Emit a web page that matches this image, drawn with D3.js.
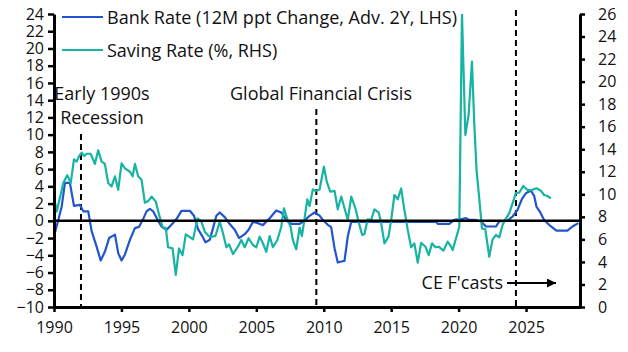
<!DOCTYPE html>
<html>
<head>
<meta charset="utf-8">
<script src="https://cdn.jsdelivr.net/npm/d3@7"></script>
<style>
  body { margin: 0; background: #fff; }
  svg text { font-family: "Open Sans", "Noto Sans", sans-serif; fill: #111; }
</style>
</head>
<body>
<div id="chart"></div>
<script>
// Bank Rate, 12M ppt change, advanced 2 years (LHS)
let bankYears = [1990.00, 1990.32, 1990.57, 1990.81, 1991.18, 1991.48, 1991.92, 1992.17, 1992.54, 1992.79,
  1993.16, 1993.46, 1993.77, 1994.09, 1994.52, 1994.76, 1995.01, 1995.26, 1995.63, 1996.00,
  1996.31, 1996.61, 1996.86, 1997.11, 1997.35, 1997.65, 1997.97, 1998.34, 1998.71, 1999.08,
  1999.45, 2000.07, 2000.38, 2000.68, 2000.98, 2001.23, 2001.55, 2001.79, 2002.04, 2002.29,
  2002.66, 2003.03, 2003.40, 2003.72, 2004.14, 2004.43, 2004.75, 2005.12, 2005.49, 2005.99,
  2006.48, 2006.85, 2007.22, 2007.59, 2008.21, 2008.58, 2008.95, 2009.32, 2009.69, 2009.93,
  2010.30, 2010.55, 2010.80, 2011.04, 2011.30, 2011.54, 2011.78, 2012.04, 2018.33, 2018.45,
  2019.31, 2019.68, 2020.30, 2020.55, 2020.79, 2021.29, 2021.66, 2022.03, 2022.77, 2023.01,
  2023.63, 2024.00, 2024.37, 2024.69, 2024.99, 2025.36, 2025.60, 2025.77, 2026.02, 2026.34,
  2026.71, 2027.25, 2028.07, 2028.44, 2028.88];
let bankRate = [-1.8, 0.1, 1.66, 4.4, 4.4, 1.74, 1.86, 1.1, 1.1, -1.2,
  -3.0, -4.6, -3.6, -2.0, -1.6, -3.75, -4.6, -3.9, -2.2, -0.85,
  -0.7, 0.2, 1.1, 1.4, 1.1, 0.2, -0.66, -1.05, -0.46, 0.2,
  1.16, 1.16, 0.58, -0.96, -1.74, -2.5, -2.2, -0.85, 0.58, 0.97,
  0.43, -0.38, -1.04, -2.0, -1.55, -1.04, -0.12, -0.27, -0.5, 0.3,
  1.2, 0.97, 0.1, -0.35, -0.35, 0.03, 0.58, 0.97, 0.6, 0.1,
  -0.46, -0.73, -3.17, -4.84, -4.72, -4.64, -1.82, -0.12, -0.12, -0.35,
  -0.35, 0.1, 0.23, 0.31, 0.1, 0.1, -0.08, -0.66, -0.66, -0.08,
  0.03, 0.5, 1.28, 2.52, 3.21, 3.51, 2.9, 1.66, 1.08, 0.1,
  -0.46, -1.13, -1.13, -0.66, -0.27];

// Household saving rate, % (RHS)
let savingYears = [1990.00, 1990.20, 1990.69, 1990.98, 1991.24, 1991.48, 1991.68, 1991.87, 1992.05, 1992.24,
  1992.42, 1992.72, 1993.03, 1993.28, 1993.53, 1993.77, 1994.02, 1994.27, 1994.52, 1994.76,
  1995.01, 1995.26, 1995.63, 1995.83, 1996.00, 1996.24, 1996.49, 1996.74, 1996.98, 1997.23,
  1997.55, 1997.79, 1998.05, 1998.29, 1998.46, 1998.79, 1999.03, 1999.27, 1999.53, 1999.77,
  2000.07, 2000.31, 2000.64, 2000.93, 2001.18, 2001.47, 2001.72, 2001.97, 2002.29, 2002.53,
  2002.78, 2002.98, 2003.27, 2003.64, 2003.89, 2004.14, 2004.43, 2004.75, 2005.00, 2005.25,
  2005.49, 2005.74, 2005.99, 2006.23, 2006.56, 2006.85, 2007.05, 2007.30, 2007.54, 2007.71,
  2007.96, 2008.21, 2008.38, 2008.58, 2008.78, 2008.95, 2009.19, 2009.37, 2009.69, 2010.01,
  2010.23, 2010.48, 2010.80, 2011.04, 2011.30, 2011.54, 2011.78, 2012.04, 2012.35, 2012.60,
  2012.85, 2013.02, 2013.26, 2013.52, 2013.76, 2014.08, 2014.26, 2014.50, 2014.80, 2015.00,
  2015.24, 2015.49, 2015.74, 2015.98, 2016.23, 2016.48, 2016.72, 2016.97, 2017.22, 2017.54,
  2017.78, 2018.03, 2018.28, 2018.52, 2018.87, 2019.19, 2019.44, 2019.56, 2019.81, 2020.05,
  2020.25, 2020.50, 2020.74, 2020.99, 2021.16, 2021.33, 2021.53, 2021.73, 2021.98, 2022.27,
  2022.52, 2022.77, 2023.01, 2023.26, 2023.51, 2023.75, 2024.00, 2024.25, 2024.49, 2024.79,
  2025.11, 2025.43, 2025.77, 2026.10, 2026.34, 2026.59, 2026.84];
let savingRate = [9.8, 8.46, 11.0, 11.7, 11.0, 13.1, 12.9, 13.4, 13.7, 13.4,
  13.6, 13.6, 12.7, 13.9, 12.9, 12.7, 11.0, 10.7, 11.6, 10.4,
  12.75, 12.3, 12.0, 11.6, 12.7, 11.6, 11.3, 9.25, 9.4, 9.8,
  9.35, 8.2, 7.1, 7.0, 5.3, 5.2, 2.85, 5.2, 4.6, 6.45,
  6.2, 6.0, 7.87, 7.57, 6.68, 6.3, 6.24, 6.3, 7.57, 6.54,
  5.3, 5.56, 4.7, 5.35, 5.95, 5.3, 6.1, 5.5, 5.3, 6.24,
  5.65, 4.9, 6.3, 5.3, 5.95, 7.12, 8.76, 7.78, 7.12, 5.95,
  5.12, 7.04, 6.3, 7.87, 9.56, 8.96, 10.44, 10.3, 10.4, 12.45,
  11.1, 10.23, 10.3, 8.67, 9.8, 8.76, 7.72, 9.8, 8.76, 7.48,
  6.39, 6.48, 7.78, 7.72, 8.67, 8.37, 7.43, 5.65, 6.24, 7.72,
  9.94, 9.56, 10.53, 8.6, 6.83, 5.3, 5.65, 3.93, 5.7, 5.35,
  4.6, 5.65, 5.3, 5.35, 5.0, 5.8, 5.35, 5.06, 6.1, 7.12,
  26.0, 15.26, 17.04, 21.77, 16.3, 12.16, 9.64, 6.98, 6.9, 4.46,
  6.0, 6.39, 6.18, 7.28, 7.87, 8.31, 9.2, 10.14, 10.14, 10.74,
  10.38, 10.38, 10.53, 10.32, 9.94, 9.85, 9.64];

let leftTicks = [-10, -8, -6, -4, -2, 0, 2, 4, 6, 8, 10, 12, 14, 16, 18, 20, 22, 24];
let rightTicks = [0, 2, 4, 6, 8, 10, 12, 14, 16, 18, 20, 22, 24, 26];
let yearTicks = [1990, 1995, 2000, 2005, 2010, 2015, 2020, 2025];

let seriesNames = ["Bank Rate (12M ppt Change, Adv. 2Y, LHS)", "Saving Rate (%, RHS)"];
let eventYears = [1992, 2009.45, 2024.25];

let w = 628;
let h = 352;
let blue = "#2255cc";
let teal = "#17b3a3";
let font = "'Open Sans', 'Noto Sans', sans-serif";

let x = d3.scaleLinear().domain([1990, 2029]).range([54, 580]);
let yL = d3.scaleLinear().domain([-10, 24]).range([307, 14]);
let yR = d3.scaleLinear().domain([0, 26]).range([307, 14]);

let viz = d3.select("#chart")
  .append("svg")
  .attr("width", w)
  .attr("height", h);

viz.append("clipPath").attr("id", "plot")
  .append("rect").attr("x", 54).attr("y", 14).attr("width", 526).attr("height", 293);

// dashed event lines
let dashTops = [134, 109, 10];
viz.selectAll(".event")
  .data(eventYears)
  .enter()
  .append("line")
  .attr("class", "event")
  .attr("x1", d => x(d))
  .attr("x2", d => x(d))
  .attr("y1", (d, i) => dashTops[i])
  .attr("y2", 307)
  .style("stroke", "#000")
  .style("stroke-width", 2)
  .style("stroke-dasharray", "6,4");

// series
let bankLine = d3.line().x(d => x(d[0])).y(d => yL(d[1]));
let savingLine = d3.line().x(d => x(d[0])).y(d => yR(d[1]));

viz.append("path")
  .datum(d3.zip(bankYears, bankRate))
  .attr("d", bankLine)
  .attr("clip-path", "url(#plot)")
  .style("fill", "none")
  .style("stroke", blue)
  .style("stroke-width", 2.2)
  .style("stroke-linejoin", "round");

viz.append("path")
  .datum(d3.zip(savingYears, savingRate))
  .attr("d", savingLine)
  .attr("clip-path", "url(#plot)")
  .style("fill", "none")
  .style("stroke", teal)
  .style("stroke-width", 2.2)
  .style("stroke-linejoin", "round");

// zero line
viz.append("line")
  .attr("x1", 54).attr("x2", 580)
  .attr("y1", yL(0)).attr("y2", yL(0))
  .style("stroke", "#000")
  .style("stroke-width", 2.5);

// axes
let leftAxis = viz.append("g")
  .attr("transform", "translate(54,0)")
  .call(d3.axisLeft(yL).tickValues(leftTicks).tickSize(6).tickSizeOuter(0).tickPadding(4));

let rightAxis = viz.append("g")
  .attr("transform", "translate(580,0)")
  .call(d3.axisRight(yR).tickValues(rightTicks).tickSize(5).tickSizeOuter(0).tickPadding(13));

let bottomAxis = viz.append("g")
  .attr("transform", "translate(0,307)")
  .call(d3.axisBottom(x).tickValues(yearTicks).tickFormat(d3.format("d")).tickSize(5).tickSizeOuter(0).tickPadding(10));

[leftAxis, rightAxis, bottomAxis].forEach(g => {
  g.select(".domain").style("stroke", "#000").style("stroke-width", 3);
  g.selectAll(".tick line").style("stroke", "#000").style("stroke-width", 2.5);
  g.selectAll(".tick text").style("font-size", "16px").style("fill", "#111")
    .style("font-family", font);
});

// legend
let legendY = [17, 50];
let legendColors = [blue, teal];
seriesNames.forEach((name, i) => {
  viz.append("line")
    .attr("x1", 62).attr("x2", 103)
    .attr("y1", legendY[i]).attr("y2", legendY[i])
    .style("stroke", legendColors[i])
    .style("stroke-width", 2.2);
  viz.append("text")
    .attr("x", 107)
    .attr("y", legendY[i] + 6.5)
    .style("font-size", "18px")
    .text(name);
});

// annotations
viz.append("text").attr("x", 102).attr("y", 100).attr("text-anchor", "middle")
  .style("font-size", "18px").text("Early 1990s");
viz.append("text").attr("x", 102).attr("y", 124).attr("text-anchor", "middle")
  .style("font-size", "18px").text("Recession");
viz.append("text").attr("x", 321).attr("y", 100).attr("text-anchor", "middle")
  .style("font-size", "18px").text("Global Financial Crisis");
viz.append("text").attr("x", 503).attr("y", 289).attr("text-anchor", "end")
  .style("font-size", "18px").text("CE F'casts");

viz.append("defs").append("marker")
  .attr("id", "arrow")
  .attr("viewBox", "0 0 10 10")
  .attr("refX", 10).attr("refY", 5)
  .attr("markerWidth", 4.5).attr("markerHeight", 4.5)
  .attr("orient", "auto")
  .append("path").attr("d", "M0,0 L10,5 L0,10 Z").style("fill", "#000");

viz.append("line")
  .attr("x1", 507).attr("x2", 556)
  .attr("y1", 283).attr("y2", 283)
  .style("stroke", "#000")
  .style("stroke-width", 2)
  .attr("marker-end", "url(#arrow)");
</script>
</body>
</html>
